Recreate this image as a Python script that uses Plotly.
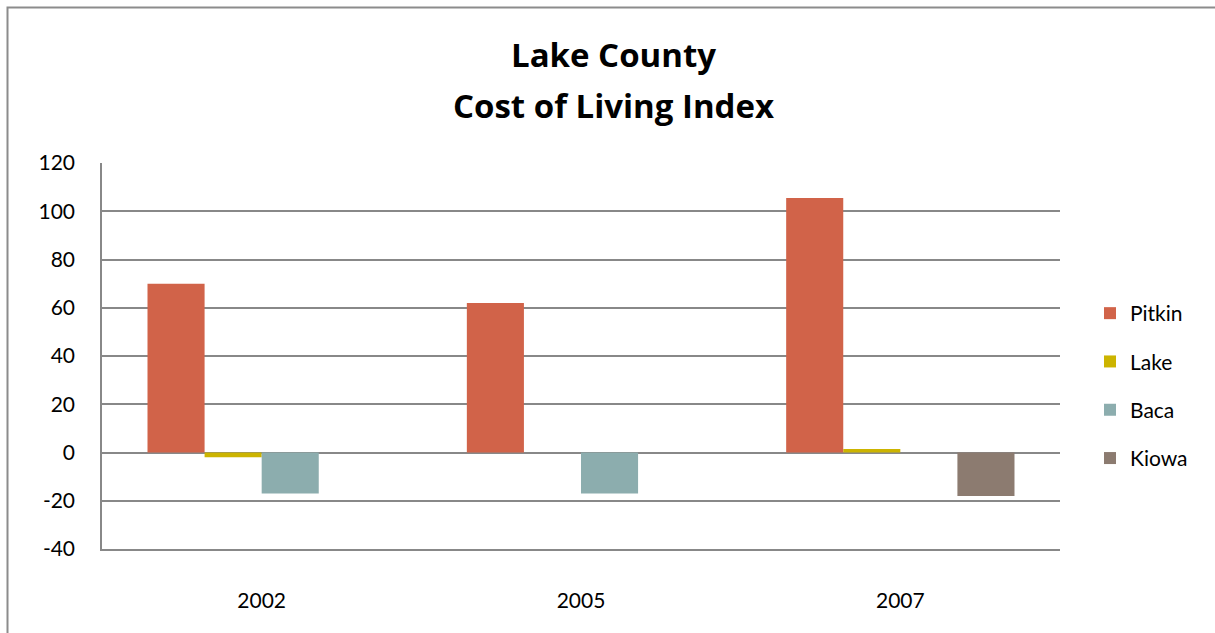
import plotly.graph_objects as go

years = ["2002", "2005", "2007"]
series_names = ["Pitkin", "Lake", "Baca", "Kiowa"]
pitkin = [70, 62, 105.5]
lake = [-2, None, 1.5]
baca = [-17, -17, None]
kiowa = [None, None, -18]
y_ticks = [-40, -20, 0, 20, 40, 60, 80, 100, 120]
y_tick_labels = ["-40", "-20", "0", "20", "40", "60", "80", "100", "120"]

values = [pitkin, lake, baca, kiowa]
colors = ["#D16349", "#CCB400", "#8CADAE", "#8C7B70"]

FONT = "Lato"
TITLE_FONT = "Open Sans"
W, H = 1215, 633
L, R, T, B = 102, 1060, 163, 549

fig = go.Figure()
for name, vals, col in zip(series_names, values, colors):
    fig.add_trace(go.Bar(x=years, y=vals, name=name, marker_color=col,
                         marker_line_width=0, legendgroup=name))

def px_x(p):
    return (p - L) / (R - L)

def px_y(p):
    return (B - p) / (B - T)

fig.update_layout(
    width=W, height=H,
    margin=dict(l=L, r=W - R, t=T, b=H - B, autoexpand=False),
    paper_bgcolor="white", plot_bgcolor="white",
    barmode="group", bargap=0.285, bargroupgap=0,
    font=dict(family=FONT, size=21, color="#000000"),
    showlegend=True,
    legend=dict(x=px_x(1090), y=px_y(293), xanchor="left", yanchor="top",
                tracegroupgap=18, font=dict(family=FONT, size=21),
                bgcolor="rgba(0,0,0,0)"),
    xaxis=dict(showgrid=False, showline=True, linecolor="#888888", linewidth=1.5,
               ticks="", ticklabelstandoff=32,
               tickfont=dict(family=FONT, size=21)),
    yaxis=dict(range=[-40, 120], tickvals=y_ticks, ticktext=y_tick_labels,
               showgrid=True,
               gridcolor="#888888", gridwidth=1.5, zeroline=True,
               zerolinecolor="#888888", zerolinewidth=1.5,
               showline=True, linecolor="#888888", linewidth=1.5,
               ticks="", ticklabelstandoff=21,
               tickfont=dict(family=FONT, size=21)),
    annotations=[
        dict(text="<b>Lake County</b>", xref="paper", yref="paper",
             x=px_x(613), y=px_y(55), xanchor="center", yanchor="middle",
             showarrow=False, font=dict(family=TITLE_FONT, size=33)),
        dict(text="<b>Cost of Living Index</b>", xref="paper", yref="paper",
             x=px_x(613), y=px_y(106), xanchor="center", yanchor="middle",
             showarrow=False, font=dict(family=TITLE_FONT, size=33)),
    ],
    shapes=[
        dict(type="rect", xref="paper", yref="paper",
             x0=px_x(7.5), y0=px_y(645), x1=px_x(1225), y1=px_y(7.5),
             line=dict(color="#8C8C8C", width=2), fillcolor="rgba(0,0,0,0)",
             layer="below"),
    ],
)

fig.write_html("out.html", config={"displayModeBar": False},
               post_script="document.body.style.margin='0';document.body.style.padding='0';")
